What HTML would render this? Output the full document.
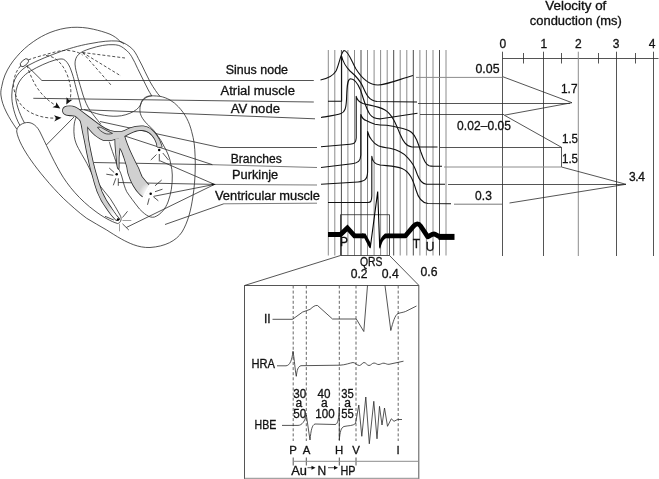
<!DOCTYPE html>
<html>
<head>
<meta charset="utf-8">
<title>Cardiac conduction</title>
<style>
html,body{margin:0;padding:0;background:#fff;}
body{width:659px;height:479px;overflow:hidden;}
svg{display:block;}
text{font-family:"Liberation Sans",sans-serif;fill:#111;stroke:#111;stroke-width:0.3;}
.l{fill:none;stroke:#2a2a2a;stroke-width:0.8;}
.g{fill:none;stroke:#8c8c8c;stroke-width:1;}
.gd{fill:none;stroke:#4a4a4a;stroke-width:1;}
.ap{fill:none;stroke:#111;stroke-width:1.1;stroke-linejoin:round;}
.d{fill:none;stroke:#333;stroke-width:0.85;stroke-dasharray:3 2;}
.dv{fill:none;stroke:#666;stroke-width:1;stroke-dasharray:3 2.1;}
.t{font-size:12px;}
</style>
</head>
<body>
<svg width="659" height="479" viewBox="0 0 659 479" style="filter:grayscale(1)">
<rect width="659" height="479" fill="#fff"/>

<!-- ===== HEART ===== -->
<g id="heart">
<!-- outer outline -->
<path class="l" d="M16.7 129C9 118 2 106 0.9 95C0.6 92 1 89.5 1.7 86.7C2.5 82.5 3.5 78.5 5 75C8 68 12 62 16.7 56.7C21.5 51 27 46 33.3 41.7C38.5 38 44 35 50 32.5C57 29.8 64 28 71.7 27.4C79 27 86 27.5 93.3 29.2C99 30.5 104.5 32 110 34.2C114 36 117.5 38.5 120 41.3C124.5 43 128.5 45.5 131.7 48.3C134.5 51 136.5 54.5 138.3 58.3C140.8 62.8 143 67.3 145 71.7C146.8 75.3 148.5 78.7 150 81.7C151.8 85 153.8 88 155.5 90.5C157 92.8 158.5 94.8 160 96.3C163.5 97 167 98.3 170 100C173 101.8 176 104 178.3 106.7C181.5 110 184.5 114 186.7 118.3C189 122.5 190.5 127 191.7 131.7C192.8 135.5 193.6 139.4 194.2 143.3C196 160 195.5 180 193 196C191 210 188 222 182 232C176 241 165 246.5 150 247.5C138 248 128 242.5 121.7 239.2C116 236 111 232.8 106.7 230C100 225.8 93 222.5 86.7 218.3C78 212 70 204.5 63.3 198.3C57 192 50.5 185 45 178.3C40 172.5 35 166 30.8 160C24.5 151 18 140 16.7 131.5"/>
<!-- RV wall lobe -->
<path class="l" d="M16.7 131.7C16.5 127.5 20 123.5 26.7 122.5C33 122 37.5 127 40 132C45 142 52 158 60 172C68 186 80 200 95 211C103 217 111 221.5 117.5 223.5"/>
<!-- L2 -->
<path class="l" d="M20 125.5C14.5 116 11.5 103 11.8 95C12 87 13.5 80.5 17 75.5C20 71 24 68 28 65.5C38 60 50 55.5 61.3 51.3C72 47.5 84 44.5 92 43.3C101 41.5 110 40.5 117 41C120 41.2 122 42.5 124 44"/>
<!-- L3 : RA compartment -->
<path class="l" d="M24.5 123C19 113 15.5 102 15.6 95C16 88 18 83 21.3 78.8C24 75.5 27 73 30 71.3C38 66.5 48 62 55 60C58.5 59 62 58.6 63.5 59.3C66 60.3 68.5 64 70 67.5C72 72.5 73 76 73.8 78.8C75.5 86 78 95 80.3 104C81 107 81.5 108.5 82 110"/>
<!-- LA compartment -->
<path class="l" d="M151.7 95.8C150.3 93.5 149.3 91.8 148.3 90C146.5 86.5 145 83.3 143.3 80C141.3 76 139.4 72.2 137.5 68.3C135.8 64.3 133.8 60.3 131.7 56.7C129.8 53.5 127.5 51 125 49.2C123 47.5 120.8 46 118.3 45.3C116.5 44.8 115 44.7 113 44.7C107 44.3 99 45.8 90 48.7C85 50.3 81 52 78.5 54.5C76 57 75 60 75 64C75.5 70 76.5 72 77.5 76.3C79 82 81 88 83 95C85 101 87 106 90 110.5C93 114.5 96.5 119 100.8 124.2"/>
<path class="l" d="M84 109.5C90 111.5 95 113.3 100 114.5C106 115.8 112 116.5 117 116.2C123 116 129 114 133.5 111.5C138 109 140.5 106 141.3 102.5C142 99.5 145 97 148 96.2C151 95.6 155 95.8 160 96.3"/>
<!-- LV oval -->
<path class="l" d="M151.7 95.8C148.5 96.3 146.5 97.3 145 98.3C142.8 100 141.3 102 140.8 104.2C140 106.5 139.8 109 140 111.7C140.3 114 141.2 116.3 142.5 118.3C144 121 146 123 148.3 125C150 126.7 151.7 128.3 153.3 130C155.2 132 156.9 134.3 158.3 136.7C160.2 139.3 161.9 142 163.3 145C165.2 148.2 166.9 151.5 168.3 155C169.5 158 170.3 161 170.8 164.2C171.8 168 172.2 171.5 172.3 175C172.5 185 171 194 168 202C165.5 208.5 161 214.5 154.5 217C149 218.5 143.5 213 139.5 209C134 202 129.5 196 126.7 191.7C124.5 187 123.5 183 122.5 179C121.5 175 120 171 118.4 168.5C116 162 113 153 110.5 146C110 144 109.5 142.5 109.2 141.7"/>
<!-- RV inner septal line -->
<path class="l" d="M76.5 116.5C75 119.5 74.2 123 74 126.7C73.8 130 73.8 133.5 74.3 136.7C75 141 76.5 145 78.5 148.5C80.5 152.5 83 156.5 85 160C87.5 164.5 90 169.5 92.5 175C94 177.5 95.8 180 97.5 182.5C101.5 188 106 193.5 110 198.3C113.5 203.5 117 209.5 120 215C121.3 217.3 121.5 219.5 120.5 221.3C119.8 222.6 118.8 223.4 117.5 223.6"/>
<!-- lobe connection line -->
<path class="l" d="M46.3 145L74 117"/>
<g id="leaders">
<path class="l" d="M26.9 65.6L41.9 80.5H313.8M33.3 98.3L313.8 102M78 109.5L315 118.8M100 121.5L220 147.5H317M93.8 162.5L212.5 164.7M124.2 135.8L212.5 164.7M165 224.5L223.8 203.8"/>
<path class="l" style="stroke:#5a5a5a" d="M212.5 164.7L317 167.5M214.5 184.4L317 185M223.8 203.8L317 203.2"/>
<path class="l" d="M214.5 184.4L160 160.8M214.5 184.4L118.3 182.5M214.5 184.4L153.8 196.3M214.5 184.4L126.3 227.5"/>
<path fill="#111" d="M211.5 183.2L216 184.4L212 185.6Z"/>
</g>
<!-- conduction system (gray) -->
<defs>
<path id="c1" d="M63 111.5C62.6 109 64 107.2 66.5 106.6C69.5 106 73 106.3 75.5 107.5C77 108.2 78 109 78.5 109.3L88.3 116.7L98.3 124.2C102 126.8 106 129.5 110 130.8C114 132 118.5 132.3 121.7 131.7C125 131 127.5 129.3 130 128.3C134 126.8 139 126 143.3 126.3C146.5 126.6 149.5 128 151.7 130C154.5 132.5 156.8 135.5 158.3 138.3C159.8 141 161 144 161.7 146.7L157.5 146.7C157 144 156.2 141.5 155 139.2C153.5 136.5 151.5 134 149.2 132.5C147 131 144.5 130.2 141.7 130C138.5 129.8 136 130.7 133.3 131.7C130 133 127.5 134.5 125 135.8C122 137.4 119 138.5 115.8 138.8C113.5 139.6 112 140 110 140.2C107.5 140.4 105.5 140.3 103.3 140C100 138.8 97.5 137 95 135C92 132.5 90 129.5 87.5 126.7C85 124 82.5 121.8 80 120C78 118.3 76.5 116.5 75 115.8C72.5 115.5 70.5 115.4 68.5 115.1C65.5 114.6 63.4 113.7 63 111.5Z"/>
<path id="c2" d="M79.5 117.5C81 122 82 126 82.5 130C83.3 134 84 137 84.6 140C86 147.5 87.5 155 89.2 162.5C90.2 167 91.2 171 92.5 175C94 181 95.7 186.5 97.5 191.7C100 198 103 203.5 106.7 208.3C108.3 210.6 110 213 111.7 215C113.3 217 115 218.8 116.5 220.2L119.2 219C118 217.6 116.9 216.3 115.8 215C114.2 212.8 112.7 210.5 111.25 208.3C107.5 203 104.2 197.5 101.7 191.7C99.6 186.3 97.8 180.7 96.25 175C95 171 93.9 166.8 92.9 162.5C91.2 155 89.6 147.5 88.3 140C87.8 136 87.5 132 87.3 128.5L87 122Z"/>
<path id="c3" d="M118.6 138.5C119 142 119.4 145.5 120 147.9C120.5 148.6 121.2 149.8 121.7 150.8C122.6 153 123.4 155.3 124.2 157.5C125.2 160.6 126.2 163.7 127.1 166.7C127.4 169 127.8 171.2 128.3 173.3C129.6 177.6 131.3 181.8 133.5 185.5C135.5 189 138 192.5 140.5 194.6C141.5 195.5 142.5 196.3 143.6 196.9L149.2 185.8C146.6 182.8 144 179.8 141.7 176.7C140.4 174 139.3 171.2 138.3 168.3C136 164 133.8 159.5 131.7 155C129.8 151.2 128.2 147.3 126.7 143.3C125.7 140.8 124.9 138.3 124.2 135.8L120 134Z"/>
<path id="c4" d="M115.2 138.2C115.3 140.5 115.3 143 115.4 145C115.6 148.5 115.9 151.8 116.25 155C116.6 159 117 163 117.5 166.7C117.8 167.6 118.1 168.3 118.5 168.8C118.7 168.2 118.75 167.5 118.75 166.7C118.7 163.6 118.7 160.5 118.75 157.5C118.9 154.3 119.2 151.2 119.6 148.3L120 147.5L119.5 138.5Z"/>
</defs>
<g fill="#2a2a2a" stroke="#2a2a2a" stroke-width="1.6" stroke-linejoin="round">
<use href="#c1"/><use href="#c2"/><use href="#c3"/><use href="#c4"/>
</g>
<g fill="#d0d0d0" stroke="none">
<use href="#c1"/><use href="#c2"/><use href="#c3"/><use href="#c4"/>
</g>
<!-- bypass leaf -->
<path fill="#d9d9d9" stroke="#2a2a2a" stroke-width="0.8" stroke-linejoin="round" d="M97.5 127.3C99.5 126.8 101.5 127.5 103 128.5C106 130.3 109 131.8 112.5 133.4C109.5 134.3 107 134.2 105 133.5C102 132.2 99 129.8 97.5 127.3Z"/>
<!-- white glow near Purkinje endings -->
<defs>
<radialGradient id="glow"><stop offset="0" stop-color="#fff" stop-opacity="1"/><stop offset="0.45" stop-color="#fff" stop-opacity="0.9"/><stop offset="1" stop-color="#fff" stop-opacity="0"/></radialGradient>
<clipPath id="cpc"><use href="#c2"/><use href="#c3"/><use href="#c1"/></clipPath>
</defs>
<g clip-path="url(#cpc)">
<circle cx="151.5" cy="194.5" r="13" fill="url(#glow)"/>
<circle cx="118" cy="219.5" r="16" fill="url(#glow)"/>
<circle cx="159.5" cy="149.5" r="5" fill="url(#glow)"/>
</g>
<path stroke="#fff" stroke-width="2.2" fill="none" d="M143.2 198.3L150 185"/>
<!-- sinus node -->
<ellipse cx="24.4" cy="62.7" rx="5" ry="2.7" transform="rotate(-42 24.4 62.7)" fill="#fff" stroke="#2a2a2a" stroke-width="0.8"/>
<!-- dashed pathways -->
<path class="d" d="M28.5 59.8C36 57 46 54.5 55 52C61 50.5 66 50 71 50.8C76 51.5 80 53 82.5 55M82.5 52.5L125 58M82.5 52.5L121 76M82.5 52.5L111 85"/>
<path class="d" d="M46 55.5C52 56 57 59 61 64C66 70 70 80 70.8 90C71 94 70.5 98 70 100"/>
<path class="d" d="M27 65.5C29 72 32 79 36 86C41 94 47 100 55 105"/>
<path class="d" d="M20.5 66C16 71 14 77 13.5 84C13.5 92 17 100 22 106C28 112.5 38 117 50 118L56 118.2"/>
<path fill="#111" d="M60.3 108.5L52.5 107.2L55.8 105.6L56.3 102.3ZM61.5 117.8L54.2 121.4L56.2 118.2L54 115.2ZM66.3 104.4L66.6 97.3L69.1 100.2L72.7 99.6Z"/>
</g>

<g id="stars">
<!-- dashes connecting labels to AP curves -->
<!-- stars -->
<g class="l">
<path d="M150.8 160L156.5 154.5M159.3 154V161.5M162.8 153L168.5 160"/>
<path d="M109.2 168L114.2 172.5M106.3 174.2L113.3 175.3M115.8 178.3L113.3 185.3M118.3 178.3V185.8"/>
<path d="M155 185.8L161.7 180M155 191.7L162.5 189.2M153.3 196.7L158.3 200.8M149.2 198.3L147.5 204.8"/>
<path d="M105 216.3L113.8 220M122.5 217.5L127.5 211.3M122.5 223.8L128.8 230"/>
<path stroke="#888" d="M122.5 220.5H131.3M119.5 223.8V231.3"/>
</g>
<circle cx="159.2" cy="150" r="1.25" fill="#000"/>
<circle cx="116.7" cy="174.3" r="1.25" fill="#000"/>
<circle cx="150.7" cy="193.8" r="1.25" fill="#000"/>
<circle cx="118" cy="219.5" r="1.25" fill="#000"/>
</g>


<!-- ===== LABELS ===== -->
<g id="labels" class="t">
<text x="225.7" y="74.1" textLength="62.3" lengthAdjust="spacingAndGlyphs">Sinus node</text>
<text x="220.5" y="95.1" textLength="74.5" lengthAdjust="spacingAndGlyphs">Atrial muscle</text>
<text x="230.7" y="112.5" textLength="49.3" lengthAdjust="spacingAndGlyphs">AV node</text>
<text x="230.7" y="162.6" textLength="51" lengthAdjust="spacingAndGlyphs">Branches</text>
<text x="232" y="178.6" textLength="46.2" lengthAdjust="spacingAndGlyphs">Purkinje</text>
<text x="215" y="199.5" textLength="105" lengthAdjust="spacingAndGlyphs">Ventricular muscle</text>
</g>

<!-- ===== GRID ===== -->
<g id="grid">
<path class="g" d="M328.3 50V255.5M334.8 50V255.5M347.9 50V255.5M354.5 50V255.5M367.5 50V255.5M374.1 50V255.5M380.6 50V255.5M387.2 50V255.5M400.2 50V255.5M406.8 50V255.5M419.9 50V255.5M426.4 50V255.5M433.0 50V255.5M446.0 50V255.5"/>
<path class="gd" d="M341.4 50V255.5M361.0 50V255.5M393.7 50V255.5M413.3 50V255.5M439.5 50V255.5"/>
</g>

<!-- ===== ACTION POTENTIALS ===== -->
<g id="aps">
<path class="ap" d="M320.5 80C328 78.5 333 76 336 71C339 65 341 52 344 50.5C348 50 352 62 356 69C361 77 368 85 378 85C388 84.5 400 79 413 75.5"/>
<path class="ap" d="M328 101.3H341.6V56C343 62 346 67 350 71C356 76 360 80 363 87C366 94 369 101 377 101.5L417 102"/>
<path class="ap" d="M321 117.5C330 116 337 115 341 113.5C345 112 346 108 346.5 100C347 88 347 79 350.5 78.8C355 79 358 84 360.5 90C364 100 366 109 370 114.5C373 118.5 377 119 381 118.8L417.5 113.3"/>
<path class="ap" d="M321 146.8L350 144.3C354 144 356 143 356.2 138V96.3C357 100 359 102 363 103.5C370 105.5 378 106 385 110C392 114 396 124 400 134C403 141 406 146.5 412 147H437.5"/>
<path class="ap" d="M321 167.5L352 163.7C358 163 360.6 161 360.8 155V114.5C362 118.5 364 120 366.7 120.8C369.5 122.3 372 123.5 375 124.2C379 125 383 125.2 386.7 125.3C390.5 125.8 394.5 126.5 398.3 127.5C401 128 404 128.7 406.7 129.7C408.5 130.4 410.3 131.3 411.7 132.5C414 134.5 415.5 137 416.7 140C418.3 143.8 419.6 147.7 420.8 151.7C422 155.2 423.3 158.7 425 161.7C426.2 163.8 427.5 165.2 429.2 165.8C430.5 166.2 432 166.3 433.3 166.3H442"/>
<path class="ap" d="M321 184.3L358 182C365 181.5 367.4 179 367.6 172V131.5C368.5 135 370 138 371.7 140C373.5 142.5 375.5 144.5 378.3 145.8C382 147.3 386 147.8 390 148.3C393.5 149 397 150 400 151.7C403.5 153.3 406 155.5 408.3 158.3C410.3 160.5 411.8 162.7 413.3 165C415 168 416.3 171.5 417.5 175C419 179 421.5 183.5 426.3 184.3H445"/>
<path class="ap" d="M328 202.5H368C371 202.5 371.6 201 371.8 196V156.3C372.5 161 374 164 380 165C388 166 396 166 402 168.5C410 172 413 180 416 190C418 197 421 203 428 203.5L451 203.8"/>
</g>

<!-- ===== ECG ===== -->
<g id="ecg">
<path class="l" d="M340.5 255.5V214.7H389.5V255.5Z"/>
<path fill="none" stroke="#000" stroke-width="4.8" stroke-linejoin="miter" stroke-miterlimit="6" d="M328 234.5H340.5L347.4 228L354.5 235.8H363.5"/>
<path fill="#000" stroke="none" d="M362 233.4H365.5L370.9 243.5L370.6 248.4L369.2 247.6L364.3 238.2H362Z"/>
<path fill="none" stroke="#000" stroke-width="1.1" stroke-linejoin="miter" stroke-miterlimit="10" d="M370.3 247.5L377.7 191.5L379.7 247.3"/>
<path fill="#000" stroke="none" d="M379.3 248.3L379.1 242C380 239.5 381.5 236.5 385 233.4H388.5V238.2H386C384.5 238.8 383 240.5 382 243C381.2 245 380.6 247 380.3 248.5Z"/>
<path fill="none" stroke="#000" stroke-width="4.8" stroke-linejoin="round" d="M388 235.8H405.5L413.5 226.3C416 223 418.6 223 420.6 226L427.8 236.8C430 236 431.5 234 434 234C436 234 437.5 236.3 440 236.7H446"/>
<path fill="none" stroke="#000" stroke-width="6" d="M438.5 236.9H454.5"/>
<text class="t" x="344" y="245.8" text-anchor="middle">P</text>
<text class="t" x="416.5" y="247.5" text-anchor="middle">T</text>
<text class="t" x="430.2" y="251" text-anchor="middle">U</text>
</g>

<!-- ===== VELOCITY AXIS ===== -->
<g id="vel">
<text class="t" x="545.3" y="10" textLength="61" lengthAdjust="spacingAndGlyphs">Velocity of</text>
<text class="t" x="529.8" y="24.5" textLength="92" lengthAdjust="spacingAndGlyphs">conduction (ms)</text>
<text class="t" x="499.5" y="47.5">0</text>
<text class="t" x="540.5" y="47.5">1</text>
<text class="t" x="575" y="47.5">2</text>
<text class="t" x="612.7" y="47.5">3</text>
<text class="t" x="648.7" y="47.5">4</text>
<path class="l" d="M502.5 58.5H658.5M502.5 51.7V256M543.5 51.7V256M616.5 51.7V256M653.5 51.7V256"/>
<path class="g" d="M578.3 51.7V256"/>
<path class="l" d="M523.5 53V63.5M561.5 53V63.5M598.5 53V63.5M635.5 53V63.5"/>
<path class="l" d="M503 76.8L572 102.7L504.3 115.2L561.5 147.3V167L626 184.3L509.5 203"/>
<text class="t" x="475.5" y="73" textLength="24" lengthAdjust="spacingAndGlyphs">0.05</text>
<text class="t" x="561" y="92.7" textLength="16.5" lengthAdjust="spacingAndGlyphs">1.7</text>
<text class="t" x="457" y="129.5" textLength="54">0.02–0.05</text>
<text class="t" x="562" y="143.4" textLength="16" lengthAdjust="spacingAndGlyphs">1.5</text>
<text class="t" x="562" y="163.4" textLength="16" lengthAdjust="spacingAndGlyphs">1.5</text>
<text class="t" x="629" y="180.5" textLength="16">3.4</text>
<text class="t" x="475" y="199.5" textLength="17">0.3</text>
</g>

<!-- ===== CONNECTORS ===== -->
<g id="conn">
<path class="g" d="M416 77.4H502.5M444 167H561.5"/>
<path class="l" d="M418 103.5H570M420 114.5H504M440 147.5H561.5M448 184.5H626"/>
<path class="l" style="stroke:#555" d="M454 204.2H502.5"/>
</g>

<!-- ===== INSET ===== -->
<g id="inset">
<path class="l" d="M244.5 479V285.5H418.8V479M244.5 285.5L340.5 255.5M389.5 255.5L418.8 285.3"/>
<path class="g" d="M244.5 478.3H418.8"/>
<text class="t" x="360" y="265.5" textLength="22.5" lengthAdjust="spacingAndGlyphs">QRS</text>
<text class="t" x="350.7" y="277.5" textLength="16.8" lengthAdjust="spacingAndGlyphs">0.2</text>
<text class="t" x="381.7" y="277.5" textLength="17" lengthAdjust="spacingAndGlyphs">0.4</text>
<text class="t" x="420.5" y="275.7" textLength="17" lengthAdjust="spacingAndGlyphs">0.6</text>
<path class="dv" d="M293.2 285.5V441M306.3 285.5V441M339.3 285.5V441M356 285.5V441M398.2 285.5V441"/>
<text class="t" x="267.3" y="322.5" text-anchor="middle">II</text>
<path class="l" d="M272.5 319.3H292.5L302.5 312.1L310 309.4C313 306.8 315 305 317.5 305.5L332.5 319H356.3L363.8 331.5L367.5 285.5M385 285.5L390.8 330.5C393 322 395 315 398 313.5C401 312.5 403 312.5 405.5 311.5L416.5 306"/>
<text class="t" x="251.5" y="368.2" textLength="23.5" lengthAdjust="spacingAndGlyphs">HRA</text>
<path class="l" d="M277 365.8H286C290 365.5 292 360 293 351.3C294.5 360 295 370 296.3 376.3C297 370 298 366.5 301 365.7L340 365.2C345 365 350 363 353 362.5C355 362.5 357 365.5 359.5 365.5C361.5 365.5 362 362.5 364 362.5C366 362.5 367 365.5 369 365.5C371 365.5 372 363 374 363C376 363 377 364.8 379 364.5C381 364.2 382 363 384 363.2C386 363.5 387 364.5 389 364.3L403.5 361.2"/>
<text class="t" x="293.3" y="397.5" textLength="13" lengthAdjust="spacingAndGlyphs">30</text>
<text class="t" x="298.9" y="406.5" text-anchor="middle">a</text>
<text class="t" x="293.3" y="418" textLength="13" lengthAdjust="spacingAndGlyphs">50</text>
<text class="t" x="317.5" y="397.5" textLength="13" lengthAdjust="spacingAndGlyphs">40</text>
<text class="t" x="324.3" y="406.5" text-anchor="middle">a</text>
<text class="t" x="315.3" y="418" textLength="19.3" lengthAdjust="spacingAndGlyphs">100</text>
<text class="t" x="341.3" y="397.5" textLength="12.5" lengthAdjust="spacingAndGlyphs">35</text>
<text class="t" x="347.6" y="406.5" text-anchor="middle">a</text>
<text class="t" x="341.3" y="418" textLength="12.5" lengthAdjust="spacingAndGlyphs">55</text>
<text class="t" x="254.5" y="428.7" textLength="21.8" lengthAdjust="spacingAndGlyphs">HBE</text>
<path class="l" d="M282 425.4H298C302 425.4 305 421 306.3 415L310 440C311 430 312 425 315 424L335 424.5C338 424.5 339 418 339.3 407V440C340 432 341 427.5 344 426.5C348 425.5 353 426 355.5 423.5L358.8 405L361.8 436.3L365.8 397L369.3 443.8L373.8 401.3L377 438.8L379.5 406.3L382 425L384.5 408L387.5 426.3L391.3 418.8L394 421.3L397.5 419.5L402 419.5"/>
<text class="t" style="font-size:11.4px" x="293.1" y="453.8" text-anchor="middle">P</text>
<text class="t" style="font-size:11.4px" x="306.6" y="453.8" text-anchor="middle">A</text>
<text class="t" style="font-size:11.4px" x="339.1" y="453.8" text-anchor="middle">H</text>
<text class="t" style="font-size:11.4px" x="356.1" y="453.8" text-anchor="middle">V</text>
<text class="t" style="font-size:11.4px" x="398.2" y="453.8" text-anchor="middle">I</text>
<path class="l" d="M293.2 457.5V465.5M306.3 457.5V465.5M339.3 457.5V465.5M356 457.5V465.5"/>
<path class="g" d="M293.2 461.3H418.8"/>
<text class="t" x="291.3" y="475" textLength="15.7" lengthAdjust="spacingAndGlyphs">Au</text>
<text class="t" x="321.8" y="475" text-anchor="middle">N</text>
<text class="t" x="340.5" y="475" textLength="15" lengthAdjust="spacingAndGlyphs">HP</text>
<path class="l" d="M307.5 467.7H313M328 467.7H335"/>
<path fill="#111" d="M315.5 467.7L311.5 465.7V469.7ZM338 467.7L334 465.7V469.7Z"/>
</g>
</svg>
</body>
</html>
